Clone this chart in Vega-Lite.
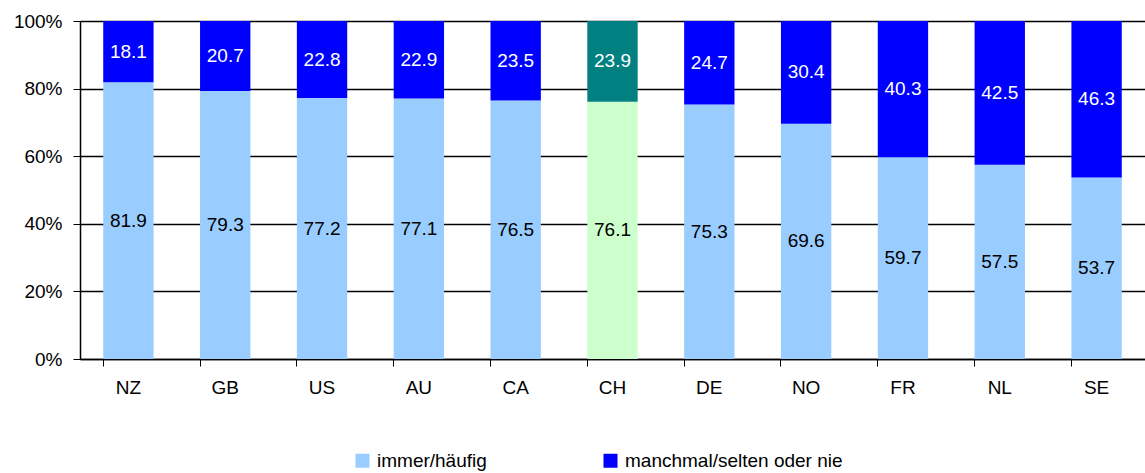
{
  "$schema": "https://vega.github.io/schema/vega-lite/v6.json",
  "width": 1065,
  "height": 338,
  "autosize": {"type": "none"},
  "padding": {"left": 80, "top": 21, "right": 0, "bottom": 114},
  "background": "white",
  "config": {
    "font": "Liberation Sans",
    "view": {"stroke": null},
    "axis": {"labelFont": "Liberation Sans", "labelFontSize": 19, "labelColor": "black", "domainColor": "black", "tickColor": "black", "titleFontSize": 16}
  },
  "data": {
    "values": [
      {"country": "NZ", "series": "immer/häufig", "grp": "immer/häufig", "ord": 1, "val": 81.9},
      {"country": "NZ", "series": "manchmal/selten oder nie", "grp": "manchmal/selten oder nie", "ord": 2, "val": 18.1},
      {"country": "GB", "series": "immer/häufig", "grp": "immer/häufig", "ord": 1, "val": 79.3},
      {"country": "GB", "series": "manchmal/selten oder nie", "grp": "manchmal/selten oder nie", "ord": 2, "val": 20.7},
      {"country": "US", "series": "immer/häufig", "grp": "immer/häufig", "ord": 1, "val": 77.2},
      {"country": "US", "series": "manchmal/selten oder nie", "grp": "manchmal/selten oder nie", "ord": 2, "val": 22.8},
      {"country": "AU", "series": "immer/häufig", "grp": "immer/häufig", "ord": 1, "val": 77.1},
      {"country": "AU", "series": "manchmal/selten oder nie", "grp": "manchmal/selten oder nie", "ord": 2, "val": 22.9},
      {"country": "CA", "series": "immer/häufig", "grp": "immer/häufig", "ord": 1, "val": 76.5},
      {"country": "CA", "series": "manchmal/selten oder nie", "grp": "manchmal/selten oder nie", "ord": 2, "val": 23.5},
      {"country": "CH", "series": "immer/häufig", "grp": "CH immer/häufig", "ord": 1, "val": 76.1},
      {"country": "CH", "series": "manchmal/selten oder nie", "grp": "CH manchmal/selten oder nie", "ord": 2, "val": 23.9},
      {"country": "DE", "series": "immer/häufig", "grp": "immer/häufig", "ord": 1, "val": 75.3},
      {"country": "DE", "series": "manchmal/selten oder nie", "grp": "manchmal/selten oder nie", "ord": 2, "val": 24.7},
      {"country": "NO", "series": "immer/häufig", "grp": "immer/häufig", "ord": 1, "val": 69.6},
      {"country": "NO", "series": "manchmal/selten oder nie", "grp": "manchmal/selten oder nie", "ord": 2, "val": 30.4},
      {"country": "FR", "series": "immer/häufig", "grp": "immer/häufig", "ord": 1, "val": 59.7},
      {"country": "FR", "series": "manchmal/selten oder nie", "grp": "manchmal/selten oder nie", "ord": 2, "val": 40.3},
      {"country": "NL", "series": "immer/häufig", "grp": "immer/häufig", "ord": 1, "val": 57.5},
      {"country": "NL", "series": "manchmal/selten oder nie", "grp": "manchmal/selten oder nie", "ord": 2, "val": 42.5},
      {"country": "SE", "series": "immer/häufig", "grp": "immer/häufig", "ord": 1, "val": 53.7},
      {"country": "SE", "series": "manchmal/selten oder nie", "grp": "manchmal/selten oder nie", "ord": 2, "val": 46.3}
    ]
  },
  "transform": [
    {"stack": "val", "groupby": ["country"], "sort": [{"field": "ord", "order": "ascending"}], "as": ["y0", "y1"]},
    {"calculate": "(datum.y0 + datum.y1) / 2", "as": "ymid"}
  ],
  "encoding": {
    "x": {
      "field": "country", "type": "nominal",
      "sort": ["NZ", "GB", "US", "AU", "CA", "CH", "DE", "NO", "FR", "NL", "SE"],
      "scale": {"paddingInner": 0.48, "paddingOuter": 0.24},
      "axis": {"title": null, "labelAngle": 0, "bandPosition": 0, "tickSize": 7, "labelPadding": 12, "domainWidth": 1.5, "grid": false}
    }
  },
  "layer": [
    {
      "mark": {"type": "bar"},
      "encoding": {
        "y": {
          "field": "y0", "type": "quantitative",
          "scale": {"domain": [0, 100], "nice": false},
          "axis": {"title": null, "values": [0, 20, 40, 60, 80, 100], "labelExpr": "datum.value + '%'", "tickSize": 7, "labelPadding": 11, "grid": true, "gridColor": "black", "gridWidth": 1.3, "gridOpacity": 1, "domainWidth": 1.5}
        },
        "y2": {"field": "y1"},
        "color": {
          "field": "grp", "type": "nominal",
          "scale": {
            "domain": ["immer/häufig", "manchmal/selten oder nie", "CH immer/häufig", "CH manchmal/selten oder nie"],
            "range": ["#99CCFF", "#0000FF", "#CCFFCC", "#008080"]
          },
          "legend": {
            "values": ["immer/häufig", "manchmal/selten oder nie"],
            "title": null,
            "orient": "none",
            "legendX": 273,
            "legendY": 430,
            "direction": "horizontal",
            "symbolType": "square",
            "symbolSize": 196,
            "symbolStrokeWidth": 0,
            "symbolOpacity": 1,
            "labelFontSize": 19,
            "labelFont": "Liberation Sans",
            "labelColor": "black",
            "labelLimit": 0,
            "labelOffset": 5,
            "columnPadding": 114
          }
        }
      }
    },
    {
      "mark": {"type": "text", "fontSize": 19, "font": "Liberation Sans", "baseline": "middle"},
      "encoding": {
        "y": {"field": "ymid", "type": "quantitative"},
        "text": {"field": "val", "type": "quantitative", "format": ".1f"},
        "color": {
          "condition": {"test": "datum.ord == 2", "value": "white"},
          "value": "black"
        }
      }
    }
  ]
}
